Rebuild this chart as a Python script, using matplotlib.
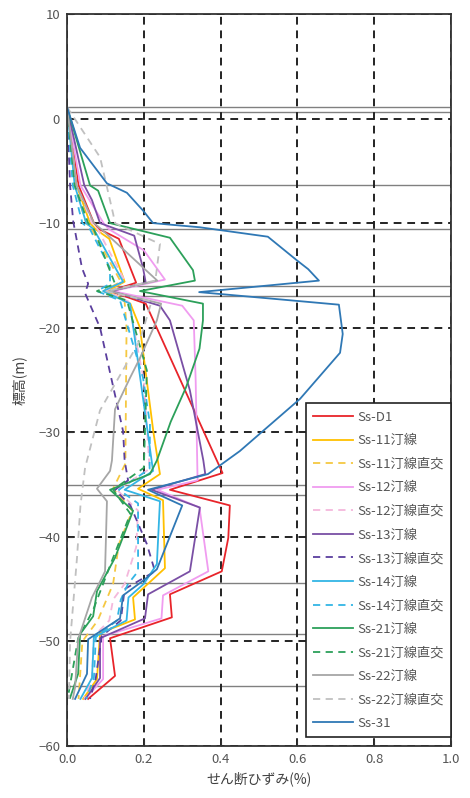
import matplotlib
matplotlib.use("Agg")
import matplotlib.pyplot as plt

plt.rcParams['font.family'] = ['Noto Sans CJK JP', 'DejaVu Sans']
plt.rcParams['axes.unicode_minus'] = True

# 地層境界 (m)
layer_levels = [1.1, 0.6, -6.4, -10.6, -16.0, -17.0, -35.0, -36.0, -44.4, -49.3, -54.3]

# 各ケースのせん断ひずみ分布 (標高, ひずみ%)
d1_z = [1.1, -6.4, -10.0, -10.6, -11.5, -15.7, -16.5, -17.7, -33.9, -35.5, -37.0, -40.1, -43.3, -45.5, -47.7, -49.7, -53.3, -55.5]
d1_g = [0.0, 0.03, 0.07, 0.085, 0.135, 0.18, 0.112, 0.205, 0.405, 0.268, 0.424, 0.42, 0.403, 0.268, 0.273, 0.112, 0.125, 0.055]

s11_z = [1.1, -6.4, -10.0, -10.6, -11.5, -15.6, -16.5, -17.7, -20.0, -30.0, -34.0, -35.4, -36.5, -43.0, -45.8, -47.9, -49.2, -53.6, -55.5]
s11_g = [0.0, 0.025, 0.06, 0.075, 0.11, 0.15, 0.105, 0.165, 0.19, 0.225, 0.242, 0.185, 0.25, 0.255, 0.172, 0.177, 0.086, 0.078, 0.042]

s11o_z = [1.1, -6.4, -10.0, -10.6, -15.6, -16.5, -17.5, -20.0, -33.0, -35.4, -37.5, -40.7, -44.5, -48.0, -50.0, -55.5]
s11o_g = [0.0, 0.02, 0.05, 0.065, 0.14, 0.095, 0.15, 0.155, 0.152, 0.12, 0.17, 0.135, 0.12, 0.08, 0.04, 0.03]

s12_z = [1.1, -6.4, -10.0, -10.6, -12.6, -15.4, -16.5, -17.9, -19.3, -25.0, -34.6, -35.5, -37.2, -43.3, -45.6, -47.8, -49.5, -53.6, -55.5]
s12_g = [0.0, 0.035, 0.095, 0.11, 0.2, 0.255, 0.12, 0.3, 0.33, 0.335, 0.34, 0.235, 0.345, 0.368, 0.25, 0.246, 0.094, 0.094, 0.047]

s12o_z = [1.1, -6.4, -10.0, -10.6, -15.5, -16.5, -17.5, -25.0, -33.5, -35.5, -37.5, -41.0, -44.5, -46.0, -48.0, -49.5, -53.5, -55.5]
s12o_g = [0.0, 0.025, 0.065, 0.08, 0.15, 0.1, 0.16, 0.2, 0.215, 0.13, 0.185, 0.18, 0.15, 0.12, 0.11, 0.07, 0.065, 0.045]

s13_z = [1.1, -6.4, -7.8, -10.0, -11.2, -14.3, -15.7, -16.5, -17.9, -19.3, -26.0, -32.7, -34.0, -35.5, -37.2, -43.3, -45.5, -47.8, -49.7, -53.5, -55.5]
s13_g = [0.0, 0.045, 0.065, 0.086, 0.175, 0.198, 0.205, 0.115, 0.242, 0.268, 0.32, 0.355, 0.36, 0.22, 0.346, 0.32, 0.211, 0.203, 0.086, 0.086, 0.048]

s13o_z = [1.1, -6.4, -9.8, -14.3, -15.8, -16.7, -20.0, -29.9, -32.7, -34.6, -35.5, -37.0, -40.7, -43.3, -45.0, -48.0, -49.5, -53.5, -55.5]
s13o_g = [0.0, 0.008, 0.016, 0.039, 0.055, 0.047, 0.086, 0.146, 0.15, 0.159, 0.125, 0.165, 0.208, 0.229, 0.15, 0.14, 0.09, 0.075, 0.06]

s14_z = [1.1, -6.4, -10.0, -10.6, -15.6, -16.5, -17.7, -33.7, -35.5, -36.6, -42.6, -44.5, -45.8, -48.0, -49.6, -53.5, -55.5]
s14_g = [0.0, 0.02, 0.05, 0.07, 0.146, 0.094, 0.164, 0.224, 0.15, 0.242, 0.234, 0.2, 0.16, 0.155, 0.07, 0.065, 0.035]

s14o_z = [1.1, -6.4, -10.0, -10.6, -14.3, -15.8, -16.5, -17.4, -24.8, -29.2, -33.5, -35.5, -36.8, -43.3, -44.5, -46.0, -48.0, -49.6, -53.5, -55.5]
s14o_g = [0.0, 0.015, 0.04, 0.06, 0.112, 0.112, 0.078, 0.138, 0.198, 0.216, 0.215, 0.135, 0.185, 0.185, 0.159, 0.14, 0.13, 0.075, 0.07, 0.05]

s21_z = [1.1, -6.4, -6.9, -10.0, -11.4, -14.5, -15.5, -16.5, -17.7, -19.3, -22.0, -25.7, -29.0, -32.7, -34.0, -35.5, -37.5, -42.0, -45.2, -47.6, -49.3, -53.1, -55.4]
s21_g = [0.0, 0.06, 0.081, 0.112, 0.268, 0.328, 0.333, 0.19, 0.354, 0.354, 0.345, 0.31, 0.27, 0.234, 0.216, 0.112, 0.172, 0.125, 0.078, 0.068, 0.034, 0.029, 0.008]

s21o_z = [1.1, -6.4, -10.0, -10.6, -15.8, -16.5, -17.4, -24.1, -33.4, -35.5, -37.8, -42.0, -47.0, -49.7, -53.1, -55.2]
s21o_g = [0.0, 0.02, 0.055, 0.07, 0.125, 0.078, 0.156, 0.208, 0.2, 0.12, 0.165, 0.12, 0.068, 0.029, 0.013, 0.003]

s22_z = [1.1, -6.4, -10.0, -10.6, -15.5, -16.5, -17.7, -19.3, -22.9, -24.8, -27.8, -32.7, -33.7, -35.4, -36.6, -43.3, -43.9, -45.8, -49.8, -54.4, -55.5]
s22_g = [0.0, 0.025, 0.07, 0.09, 0.235, 0.11, 0.245, 0.234, 0.19, 0.164, 0.125, 0.117, 0.112, 0.078, 0.104, 0.099, 0.091, 0.065, 0.029, 0.021, 0.015]

s22o_z = [1.1, -3.7, -9.1, -10.0, -12.0, -15.5, -16.5, -17.5, -21.2, -27.9, -33.4, -35.5, -37.0, -42.0, -50.0, -55.5]
s22o_g = [0.0, 0.086, 0.12, 0.125, 0.242, 0.23, 0.1, 0.22, 0.19, 0.086, 0.047, 0.04, 0.035, 0.026, 0.008, 0.005]

s31_z = [1.1, -2.8, -6.2, -7.1, -8.8, -10.0, -10.4, -11.3, -13.6, -14.4, -15.5, -16.6, -17.8, -20.6, -22.4, -26.8, -31.8, -34.0, -35.5, -37.0, -43.1, -44.2, -45.6, -47.8, -49.8, -53.1, -55.5]
s31_g = [0.0, 0.034, 0.104, 0.156, 0.198, 0.224, 0.346, 0.523, 0.6, 0.628, 0.656, 0.344, 0.708, 0.718, 0.711, 0.607, 0.45, 0.367, 0.211, 0.30, 0.234, 0.198, 0.146, 0.138, 0.055, 0.052, 0.021]

series = [
    ('Ss-D1', d1_g, d1_z, '#e8242a', '-'),
    ('Ss-11汀線', s11_g, s11_z, '#ffc000', '-'),
    ('Ss-11汀線直交', s11o_g, s11o_z, '#f5c842', '--'),
    ('Ss-12汀線', s12_g, s12_z, '#f09cf0', '-'),
    ('Ss-12汀線直交', s12o_g, s12o_z, '#f4b8dc', '--'),
    ('Ss-13汀線', s13_g, s13_z, '#7a4fa5', '-'),
    ('Ss-13汀線直交', s13o_g, s13o_z, '#5b3f9e', '--'),
    ('Ss-14汀線', s14_g, s14_z, '#33b5e5', '-'),
    ('Ss-14汀線直交', s14o_g, s14o_z, '#33b5e5', '--'),
    ('Ss-21汀線', s21_g, s21_z, '#2ca05a', '-'),
    ('Ss-21汀線直交', s21o_g, s21o_z, '#2ca05a', '--'),
    ('Ss-22汀線', s22_g, s22_z, '#a6a6a6', '-'),
    ('Ss-22汀線直交', s22o_g, s22o_z, '#c0c0c0', '--'),
    ('Ss-31', s31_g, s31_z, '#2f78b5', '-'),
]

fig = plt.figure(figsize=(4.7, 7.98), dpi=100)
ax = fig.add_axes([0.1426, 0.0652, 0.8170, 0.9173])

for lv in layer_levels:
    ax.axhline(lv, color='#808080', lw=1.0, zorder=1)

for name, g, z, col, ls in series:
    if ls == '--':
        ax.plot(g, z, color=col, ls=(0, (4, 3)), lw=1.3, label=name, zorder=3)
    else:
        ax.plot(g, z, color=col, ls='-', lw=1.3, label=name, zorder=3)

ax.set_xlim(0, 1.0)
ax.set_ylim(-60, 10)
ax.set_xticks([0.0, 0.2, 0.4, 0.6, 0.8, 1.0])
ax.set_xticklabels(['0.0', '0.2', '0.4', '0.6', '0.8', '1.0'])
ax.set_yticks(range(-60, 11, 10))
ax.grid(True, color='#222222', ls=(0, (4, 3)), lw=1.4, zorder=2)
ax.set_axisbelow(False)

for sp in ax.spines.values():
    sp.set_color('#333333')
    sp.set_linewidth(1.3)
    sp.set_zorder(4)

ax.tick_params(direction='in', length=4, colors='#333333', labelcolor='#555555', labelsize=9.5, pad=5)

ax.set_xlabel('せん断ひずみ(%)', fontsize=10, color='#404040', labelpad=4)
ax.set_ylabel('標高(m)', fontsize=10, color='#404040', labelpad=8)

leg = ax.legend(loc='lower right', bbox_to_anchor=(1.0, 0.012), borderaxespad=0,
                fontsize=9.5, frameon=True, fancybox=False, handlelength=3.0,
                handletextpad=0.35, labelspacing=0.8, borderpad=0.55)
leg.get_frame().set_edgecolor('#222222')
leg.get_frame().set_linewidth(1.2)
leg.get_frame().set_alpha(1.0)
leg.set_zorder(5)
for t in leg.get_texts():
    t.set_color('#555555')

fig.savefig('out.png', dpi=100)
